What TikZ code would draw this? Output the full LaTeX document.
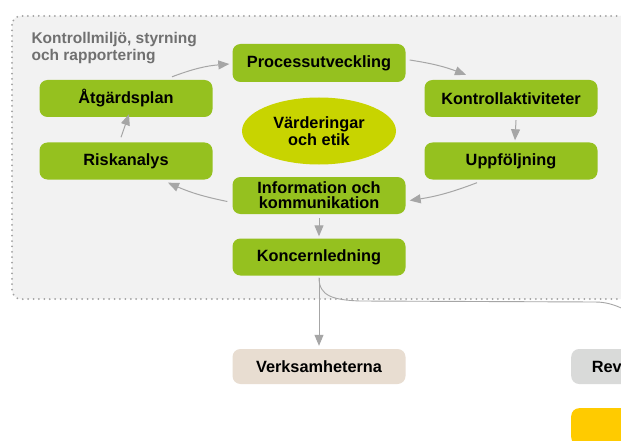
\documentclass[tikz,border=0pt]{standalone}
\usepackage{fontspec}
\setmainfont{Liberation Sans}
\usetikzlibrary{arrows.meta,shapes.geometric}
\definecolor{boxgreen}{HTML}{95C11F}
\definecolor{ellyellow}{HTML}{C8D400}
\definecolor{verkbeige}{HTML}{E8DDD1}
\definecolor{revgray}{HTML}{D9DAD9}
\definecolor{ybox}{HTML}{FFCB00}
\definecolor{bgpanel}{HTML}{F2F2F2}
\definecolor{dotgray}{HTML}{A0A0A0}
\definecolor{arrgray}{HTML}{A6A6A6}
\definecolor{titlegray}{HTML}{707070}
\begin{document}
\begin{tikzpicture}[x=1pt,y=-1pt,
  boxbase/.style={rounded corners=8pt, minimum width=173pt, minimum height=37pt,
    inner sep=0pt, align=center, text=black,
    font=\bfseries\fontsize{16.3}{15.2}\selectfont},
  gbox/.style={boxbase, fill=boxgreen},
  flow/.style={draw=arrgray, line width=1pt, -{Triangle[length=11pt,width=9pt]}},
  plainline/.style={draw=arrgray, line width=0.9pt}
]
\clip (0,0) rectangle (621,441);
\fill[white] (0,0) rectangle (621,441);
% container
\draw[fill=bgpanel, draw=dotgray, line width=2pt, line cap=round,
  dash pattern=on 0pt off 5.4pt, rounded corners=9pt]
  (12,16) rectangle (660,299);
\node[anchor=base west, align=left, text=titlegray,
  font=\bfseries\fontsize{15.5}{17}\selectfont] (title) at (28,61)
  {Kontrollmiljö, styrning\\och rapportering};

% nodes
\node[gbox, minimum height=38pt] (proc) at (319,63) {Processutveckling};
\node[gbox] (atg) at (126,98.5) {Åtgärdsplan};
\node[gbox] (kontr) at (511,98.5) {Kontrollaktiviteter};
\node[gbox] (risk) at (126,161) {Riskanalys};
\node[gbox] (uppf) at (511,161) {Uppföljning};
\node[gbox] (info) at (319,195.5) {Information och\\kommunikation};
\node[gbox] (konc) at (319,257) {Koncernledning};
\node[ellipse, fill=ellyellow, minimum width=154pt, minimum height=67pt,
  inner sep=0pt, align=center, text=black,
  font=\bfseries\fontsize{16.3}{17.5}\selectfont] (ell) at (319,131)
  {Värderingar\\och etik};
\node[boxbase, fill=verkbeige, minimum height=35pt] (verk) at (319,366.5) {Verksamheterna};
\node[boxbase, fill=revgray, minimum height=35pt, anchor=west,
  text width=131.6pt, inner xsep=20.7pt, align=left] (rev) at (571,366.5) {Rev};
\node[boxbase, fill=ybox, anchor=north west] (yel) at (571,408) {};

% connectors
\draw[flow] ([xshift=46pt,yshift=3pt]atg.north) to[bend left=8] ([xshift=-3pt,yshift=-1pt]proc.west);
\draw[flow] ([xshift=4pt,yshift=3pt]proc.east) to[bend left=6] ([xshift=-45pt,yshift=5pt]kontr.north);
\draw[flow] ([xshift=5pt,yshift=-3pt]kontr.south) -- ([xshift=4pt,yshift=2pt]uppf.north);
\draw[flow] ([xshift=-34pt,yshift=-3pt]uppf.south) to[bend left=6] ([xshift=4pt,yshift=-5pt]info.east);
\draw[flow] ([xshift=-5pt,yshift=-6pt]info.west) to[bend left=6] ([xshift=42pt,yshift=-3pt]risk.south);
\draw[flow] ([xshift=-5pt,yshift=5pt]risk.north) -- ([xshift=3pt,yshift=3pt]atg.south);
\draw[flow] ([yshift=-4pt]info.south) -- ([yshift=2pt]konc.north);
\draw[flow] ([yshift=-2pt]konc.south) -- ([yshift=3pt]verk.north);
\coordinate (offr) at (632,313);
\draw[plainline] ([yshift=-2pt]konc.south) .. controls (319,296) and (333,300) .. (360,301)
  -- (595,302) .. controls (607,302) and (616,305) .. (offr);
\end{tikzpicture}
\end{document}
